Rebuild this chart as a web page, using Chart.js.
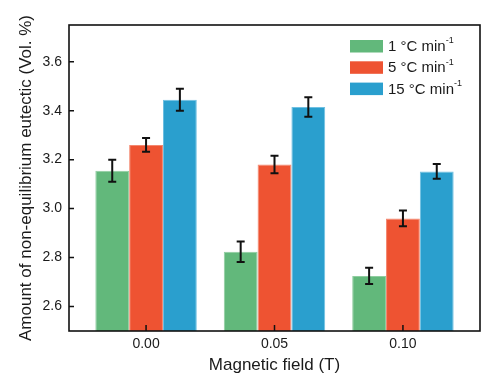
<!DOCTYPE html>
<html>
<head>
<meta charset="utf-8">
<script src="https://cdn.jsdelivr.net/npm/chart.js@4.4.0/dist/chart.umd.min.js"></script>
<style>
  html, body { margin: 0; padding: 0; background: #fff; }
  #wrap { width: 493px; height: 380px; }
</style>
</head>
<body>
<div id="wrap"><canvas id="grafico"></canvas></div>
<script>
// magnetic field (T) and its tick labels
const fields = [0, 0.05, 0.10];
const fieldLabels = ['0.00', '0.05', '0.10'];
const yTicks = [2.6, 2.8, 3.0, 3.2, 3.4, 3.6];

const seriesNames = ['1 °C min⁻¹', '5 °C min⁻¹', '15 °C min⁻¹'];
const legendText = ['1 °C min', '5 °C min', '15 °C min'];

// amount of non-equilibrium eutectic (Vol. %)
const rate1 = [3.155, 2.824, 2.725];
const rate5 = [3.26, 3.18, 2.96];
const rate15 = [3.445, 3.415, 3.152];
const err1 = [0.045, 0.042, 0.033];
const err5 = [0.028, 0.036, 0.032];
const err15 = [0.045, 0.040, 0.030];

const colores = ['#62b87b', '#ee5332', '#2a9fce'];
const bordes = ['#8fcd9f', '#f4876f', '#6fc0e2'];
const valores = [rate1, rate5, rate15];
const errores = [err1, err5, err15];

const fuente = '"Liberation Sans", Arial, sans-serif';

const datasets = valores.map((serie, i) => ({
    label: seriesNames[i],
    data: serie.map((v, j) => ({ x: fields[j], y: v })),
    err: errores[i],
    backgroundColor: colores[i],
    borderColor: bordes[i],
    borderWidth: 1,
    categoryPercentage: 0.79,
    barPercentage: 1
}));

const marco = {
    id: 'marco',
    afterDatasetsDraw(chart) {
        const ctx = chart.ctx;
        const ys = chart.scales.y;
        // error bars
        ctx.save();
        ctx.strokeStyle = '#111';
        ctx.lineWidth = 2;
        chart.data.datasets.forEach((ds, i) => {
            const meta = chart.getDatasetMeta(i);
            meta.data.forEach((bar, j) => {
                const v = ds.data[j].y, e = ds.err[j];
                const t = ys.getPixelForValue(v + e);
                const b = ys.getPixelForValue(v - e);
                ctx.beginPath();
                ctx.moveTo(bar.x, t); ctx.lineTo(bar.x, b);
                ctx.moveTo(bar.x - 4, t); ctx.lineTo(bar.x + 4, t);
                ctx.moveTo(bar.x - 4, b); ctx.lineTo(bar.x + 4, b);
                ctx.stroke();
            });
        });
        ctx.restore();
    },
    afterDraw(chart) {
        const ctx = chart.ctx;
        const a = chart.chartArea;
        const xs = chart.scales.x, ys = chart.scales.y;
        ctx.save();
        ctx.strokeStyle = '#111';
        ctx.lineWidth = 1.6;
        ctx.strokeRect(a.left, a.top, a.right - a.left, a.bottom - a.top);
        ctx.lineWidth = 1.5;
        ctx.beginPath();
        yTicks.forEach(t => {
            const y = ys.getPixelForValue(t);
            ctx.moveTo(a.left, y); ctx.lineTo(a.left + 5, y);
        });
        fields.forEach(f => {
            const x = xs.getPixelForValue(f);
            ctx.moveTo(x, a.bottom); ctx.lineTo(x, a.bottom - 6);
        });
        ctx.stroke();

        // legend
        ctx.textBaseline = 'middle';
        chart.data.datasets.forEach((ds, i) => {
            const y = 46 + i * 21.3;
            ctx.fillStyle = colores[i];
            ctx.fillRect(350, y - 6, 33, 12.5);
            ctx.fillStyle = '#1a1a1a';
            ctx.font = '15px ' + fuente;
            ctx.fillText(legendText[i], 388, y + 1);
            const w = ctx.measureText(legendText[i]).width;
            ctx.font = '9px ' + fuente;
            ctx.fillText('-1', w + 388, y - 5);
        });
        ctx.restore();
    }
};

new Chart(document.getElementById('grafico'), {
    type: 'bar',
    data: { datasets: datasets },
    options: {
        responsive: true,
        maintainAspectRatio: false,
        animation: false,
        layout: { padding: { top: 25, right: 13, left: 0, bottom: 0 } },
        plugins: { legend: { display: false }, tooltip: { enabled: false } },
        scales: {
            x: {
                type: 'linear',
                min: -0.03,
                max: 0.13,
                offset: false,
                grid: { display: false, drawTicks: false },
                border: { display: false },
                afterBuildTicks: s => { s.ticks = fields.map(v => ({ value: v })); },
                afterFit: s => { s.height = 49; },
                ticks: {
                    padding: 5,
                    color: '#1a1a1a',
                    font: { family: fuente, size: 14 },
                    callback: (v, i) => fieldLabels[i]
                },
                title: {
                    display: true,
                    text: 'Magnetic field (T)',
                    color: '#1a1a1a',
                    font: { family: fuente, size: 17 },
                    padding: { top: 0, bottom: 4 }
                }
            },
            y: {
                min: 2.5,
                max: 3.75,
                grid: { display: false, drawTicks: false },
                border: { display: false },
                afterBuildTicks: s => { s.ticks = yTicks.map(v => ({ value: v })); },
                afterFit: s => { s.width = 69; },
                ticks: {
                    padding: 7,
                    color: '#1a1a1a',
                    font: { family: fuente, size: 14 },
                    callback: v => v.toFixed(1)
                },
                title: {
                    display: true,
                    text: 'Amount of non-equilibrium eutectic (Vol. %)',
                    color: '#1a1a1a',
                    font: { family: fuente, size: 17 },
                    padding: { top: 16, bottom: 0 }
                }
            }
        }
    },
    plugins: [marco]
});
</script>
</body>
</html>
